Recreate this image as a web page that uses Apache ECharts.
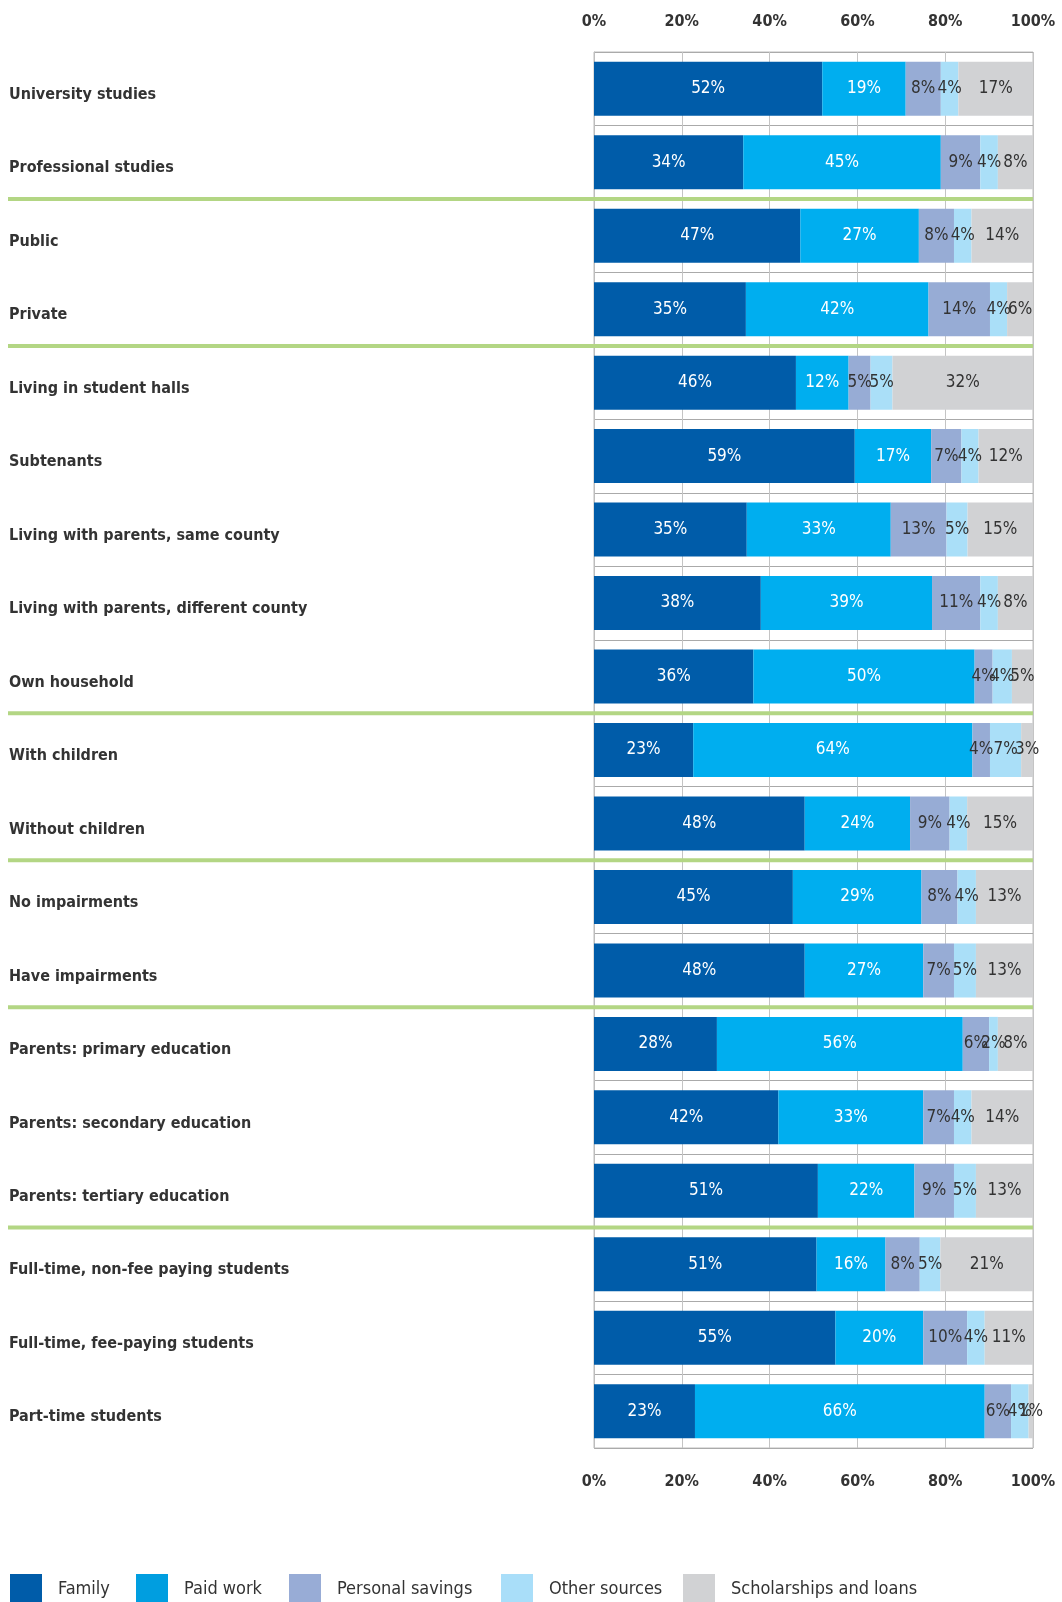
<!DOCTYPE html>
<html>
<head>
<meta charset="utf-8">
<script src="https://cdn.jsdelivr.net/npm/echarts@6/dist/echarts.min.js"></script>
<style>
html,body{margin:0;padding:0;background:#fff;}
#c{width:1062px;height:1602px;}
</style>
</head>
<body>
<div id="c"></div>
<script>
const categories = [
  "University studies",
  "Professional studies",
  "Public",
  "Private",
  "Living in student halls",
  "Subtenants",
  "Living with parents, same county",
  "Living with parents, different county",
  "Own household",
  "With children",
  "Without children",
  "No impairments",
  "Have impairments",
  "Parents: primary education",
  "Parents: secondary education",
  "Parents: tertiary education",
  "Full-time, non-fee paying students",
  "Full-time, fee-paying students",
  "Part-time students"
];
const family =        [52, 34, 47, 34.6, 46, 59.4, 34.8, 38, 36.3, 22.6, 48, 45.3, 48, 28, 42, 51, 50.7, 55, 23];
const paidWork =      [19, 45, 27, 41.6, 12, 17.4, 32.8, 39, 50.4, 63.6, 24, 29.3, 27, 56, 33, 22, 15.7, 20, 66];
const personalSav =   [8, 9, 8, 14.0, 5, 6.9, 12.7, 11, 4.1, 4.0, 9, 8.2, 7, 6, 7, 9, 7.8, 10, 6];
const otherSources =  [4, 4, 4, 3.9, 5, 3.9, 4.8, 4, 4.4, 7.1, 4, 4.2, 5, 2, 4, 5, 4.7, 4, 4];
const scholarships =  [17, 8, 14, 5.9, 32, 12.4, 14.9, 8, 4.8, 2.7, 15, 13.0, 13, 8, 14, 13, 21.1, 11, 1];
const seriesNames = ["Family", "Paid work", "Personal savings", "Other sources", "Scholarships and loans"];
// group separators: after these category indices
const groupBreaksAfter = [1, 3, 8, 10, 12, 15];

const FONT = "'DejaVu Sans Condensed', 'DejaVu Sans', sans-serif";
const colors = ['#005ca9', '#00aeef', '#97acd5', '#aadff8', '#d1d2d4'];
const legendColors = ['#005ca9', '#009ee0', '#98acd6', '#a9def9', '#d1d2d4'];
const labelColors = ['#ffffff', '#ffffff', '#333333', '#333333', '#333333'];
const legendLeft = [10, 136, 289, 501, 683];
const allData = [family, paidWork, personalSav, otherSources, scholarships];

const chart = echarts.init(document.getElementById('c'), null, {renderer: 'canvas'});

const xAxisBase = {
  type: 'value', min: 0, max: 100, interval: 20,
  axisLine: {show: false}, axisTick: {show: false},
  splitLine: {show: true, lineStyle: {color: '#c4c4c4', width: 1}},
  axisLabel: {formatter: '{value}%', color: '#333', fontSize: 16, fontWeight: 'bold', fontFamily: FONT}
};

const option = {
  animation: false,
  backgroundColor: '#ffffff',
  color: colors,
  grid: {left: 594, right: 29, top: 52, bottom: 154, show: true, borderColor: '#bdbdbd', borderWidth: 1, backgroundColor: 'transparent'},
  xAxis: [
    Object.assign({}, xAxisBase, {position: 'top', axisLabel: Object.assign({}, xAxisBase.axisLabel, {margin: 22})}),
    Object.assign({}, xAxisBase, {position: 'bottom', splitLine: {show: false}, axisLabel: Object.assign({}, xAxisBase.axisLabel, {margin: 26})})
  ],
  yAxis: {
    type: 'category', data: categories, inverse: true,
    axisLine: {show: true, lineStyle: {color: '#bdbdbd'}},
    axisTick: {show: false},
    splitLine: {show: true, interval: 0, lineStyle: {color: '#aaaaaa', width: 1}},
    axisLabel: {interval: 0, align: 'left', verticalAlign: 'top', lineHeight: 12, margin: 585, color: '#333', fontSize: 16, fontWeight: 'bold', fontFamily: FONT}
  },
  legend: seriesNames.map((name, i) => ({
    left: legendLeft[i], top: 1574, padding: 0, itemWidth: 32, itemHeight: 30, icon: 'rect',
    data: [{name: name, itemStyle: {color: legendColors[i]}}],
    textStyle: {color: '#333', fontSize: 18, fontFamily: FONT, padding: [3, 0, 0, 11]}
  })),
  series: seriesNames.map((name, i) => ({
    name: name, type: 'bar', stack: 'total', barWidth: 54, xAxisIndex: 0,
    data: allData[i],
    itemStyle: {color: colors[i]},
    label: {
      show: true, position: 'inside', color: labelColors[i], fontSize: 17, fontFamily: FONT,
      formatter: p => Math.round(p.value) + '%'
    },
    z: 3
  }))
};
chart.setOption(option);

// green separator lines between groups, positioned via the category axis
const sepGraphics = groupBreaksAfter.map(idx => {
  const y1 = chart.convertToPixel({yAxisIndex: 0}, categories[idx]);
  const y2 = chart.convertToPixel({yAxisIndex: 0}, categories[idx + 1]);
  const y = (y1 + y2) / 2;
  const xEnd = chart.convertToPixel({xAxisIndex: 0}, 100);
  return {
    type: 'line', z: 100,
    shape: {x1: 8, y1: y, x2: xEnd, y2: y},
    style: {stroke: '#b3d684', lineWidth: 4}
  };
});
chart.setOption({graphic: sepGraphics});
</script>
</body>
</html>
